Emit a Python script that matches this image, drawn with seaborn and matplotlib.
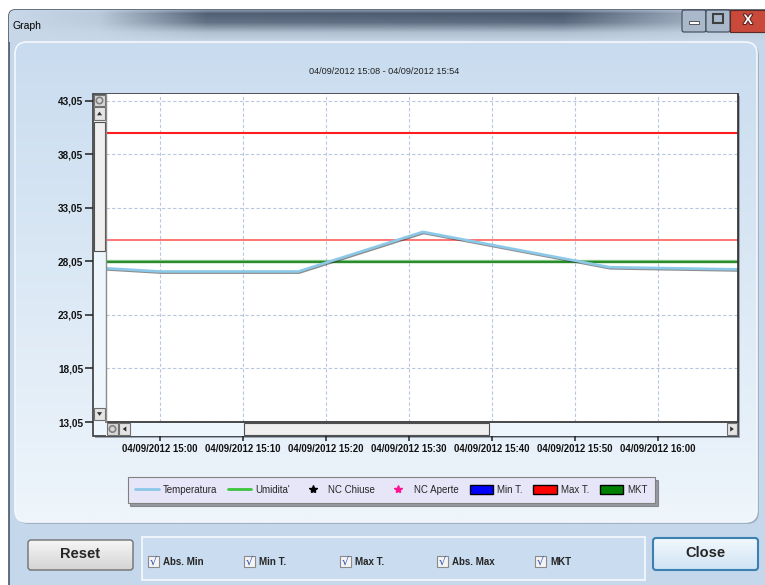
import numpy as np
import pandas as pd
import matplotlib
matplotlib.use('Agg')
import matplotlib.pyplot as plt
import matplotlib.patheffects as pe
from matplotlib.patches import Rectangle, FancyBboxPatch, Polygon, Patch, Circle
from matplotlib.lines import Line2D
from matplotlib.colors import to_rgb
import seaborn as sns

# Chart data
temp_times = ['2012-09-04 14:53:30', '2012-09-04 15:00:00', '2012-09-04 15:16:40',
              '2012-09-04 15:31:40', '2012-09-04 15:54:10', '2012-09-04 16:09:40']
temp_values = [27.4, 27.1, 27.1, 30.8, 27.5, 27.3]
max_t = 40.0
abs_max = 30.0
mkt = 28.0

x_range = ['2012-09-04 14:53:30', '2012-09-04 16:09:38']
y_range = [13.05, 43.67]
x_ticks = ['2012-09-04 15:00', '2012-09-04 15:10', '2012-09-04 15:20', '2012-09-04 15:30',
           '2012-09-04 15:40', '2012-09-04 15:50', '2012-09-04 16:00']
x_tick_labels = ['04/09/2012 15:00', '04/09/2012 15:10', '04/09/2012 15:20', '04/09/2012 15:30',
                 '04/09/2012 15:40', '04/09/2012 15:50', '04/09/2012 16:00']
y_ticks = [13.05, 18.05, 23.05, 28.05, 33.05, 38.05, 43.05]
y_tick_labels = ['13,05', '18,05', '23,05', '28,05', '33,05', '38,05', '43,05']

title = '04/09/2012 15:08 - 04/09/2012 15:54'
legend_labels = ['Temperatura', "Umidita'", 'NC Chiuse', 'NC Aperte', 'Min T.', 'Max T.', 'MKT']
check_labels = ['Abs. Min', 'Min T.', 'Max T.', 'Abs. Max', 'MKT']

df = pd.DataFrame({'time': pd.to_datetime(temp_times), 'temp': temp_values})

sns.set_theme(style='white')
plt.rcParams['font.family'] = ['Liberation Sans', 'DejaVu Sans']

W, H = 765, 585
fig = plt.figure(figsize=(W / 100, H / 100), dpi=100)
fig.patch.set_facecolor('white')


def fx(x):
    return x / W


def fy(y):
    return 1 - y / H


def vgrad(ax, x0, y0, x1, y1, c_top, c_bot, clip=None, zorder=0):
    t = np.linspace(0, 1, 64)[:, None, None]
    img = (1 - t) * np.array(to_rgb(c_top)) + t * np.array(to_rgb(c_bot))
    img = np.repeat(img, 2, axis=1)
    im = ax.imshow(img, extent=(x0, x1, y1, y0), origin='upper', aspect='auto',
                   interpolation='bilinear', zorder=zorder)
    if clip is not None:
        im.set_clip_path(clip)
    return im


# window chrome drawn in pixel coordinates
bg = fig.add_axes([0, 0, 1, 1], zorder=-1)
bg.set_xlim(0, W)
bg.set_ylim(H, 0)
bg.axis('off')

frame = FancyBboxPatch((9, 10), 770, 590, boxstyle='round,pad=0,rounding_size=6',
                       facecolor='#c4d7eb', edgecolor='#4a5566', lw=1.2, zorder=0)
bg.add_patch(frame)

# glassy title bar
xs = np.arange(0, W)
ys = np.arange(10, 42)
wx = np.interp(xs, [0, 90, 200, 560, 640, 700, 765], [0, 0.1, 0.85, 0.9, 0.55, 0.3, 0.3])
vy = np.interp(ys, [10, 13, 22, 32, 42], [0.6, 1, 0.85, 0.2, 0])
wgt = vy[:, None] * wx[None, :]
light = np.array(to_rgb('#c9d8e8'))
dark = np.array(to_rgb('#3c4b60'))
tb = (1 - wgt[..., None]) * light + wgt[..., None] * dark
im = bg.imshow(tb, extent=(9, W, 42, 10), origin='upper', aspect='auto', zorder=1)
im.set_clip_path(frame)
bg.text(13, 26, 'Graph', fontsize=7.5, color='black', va='center', ha='left', zorder=3)

# window buttons
bg.add_patch(FancyBboxPatch((682, 10), 24, 22, boxstyle='round,pad=0,rounding_size=2',
                            facecolor='#a9b9cb', edgecolor='#3c4654', lw=0.8, zorder=3))
bg.add_patch(FancyBboxPatch((706, 10), 24, 22, boxstyle='round,pad=0,rounding_size=2',
                            facecolor='#a9b9cb', edgecolor='#3c4654', lw=0.8, zorder=3))
bg.add_patch(Rectangle((730, 10), 40, 22, facecolor='#c9493b', edgecolor='#5a2a24', lw=0.8, zorder=3))
bg.add_patch(Rectangle((689, 21), 10, 3, facecolor='white', edgecolor='#404040', lw=0.6, zorder=4))
bg.add_patch(Rectangle((713, 14), 10, 9, facecolor='none', edgecolor='#404040', lw=1.5, zorder=4))
bg.text(748, 20, 'X', fontsize=10, fontweight='bold', color='white', ha='center', va='center', zorder=4,
        path_effects=[pe.withStroke(linewidth=1.5, foreground='#5a2020')])

# inner panel
bg.add_patch(FancyBboxPatch((17, 44), 742, 480, boxstyle='round,pad=0,rounding_size=12',
                            facecolor='#9fb1c4', edgecolor='none', zorder=1.5))
panel = FancyBboxPatch((15, 42), 742, 480, boxstyle='round,pad=0,rounding_size=12',
                       facecolor='none', edgecolor='#f4f8fc', lw=1.2, zorder=3)
bg.add_patch(panel)
vgrad(bg, 15, 42, 757, 522, '#c9dcef', '#eef5fb', clip=panel, zorder=2)

# chart box with shadow
bg.add_patch(Rectangle((95, 96), 645, 342, facecolor='#9aa8b8', edgecolor='none', zorder=3))
bg.add_patch(Rectangle((93, 94), 645, 342, facecolor='#eef6fd', edgecolor='#3a3a3a', lw=1.2, zorder=4))


def button(x, y, w, h, face='#e4e4e4', edge='#707070'):
    bg.add_patch(Rectangle((x, y), w, h, facecolor=face, edgecolor=edge, lw=0.8, zorder=6))


def tri(cx, cy, d):
    s = 2.6
    if d == 'up':
        pts = [(cx - s, cy + s * 0.7), (cx + s, cy + s * 0.7), (cx, cy - s * 0.7)]
    elif d == 'down':
        pts = [(cx - s, cy - s * 0.7), (cx + s, cy - s * 0.7), (cx, cy + s * 0.7)]
    elif d == 'left':
        pts = [(cx + s * 0.7, cy - s), (cx + s * 0.7, cy + s), (cx - s * 0.7, cy)]
    else:
        pts = [(cx - s * 0.7, cy - s), (cx - s * 0.7, cy + s), (cx + s * 0.7, cy)]
    bg.add_patch(Polygon(pts, closed=True, facecolor='#303030', edgecolor='none', zorder=7))


def gear(cx, cy):
    bg.add_patch(Circle((cx, cy), 3.2, facecolor='none', edgecolor='#808080', lw=1.2, zorder=7))


# vertical scrollbar
button(94, 95, 11, 11, face='#d8d8d8')
gear(99.5, 100.5)
button(94, 107, 11, 13)
tri(99.5, 113.5, 'up')
button(94, 122, 11, 129, face='#efefef', edge='#505050')
button(94, 408, 11, 12)
tri(99.5, 414, 'down')

# horizontal scrollbar
bg.add_patch(Rectangle((106, 422), 632, 14, facecolor='#eef6fd', edgecolor='none', zorder=5))
button(107, 423, 11, 12, face='#d8d8d8')
gear(112.5, 429)
button(119, 423, 11, 12)
tri(124.5, 429, 'left')
button(244, 423, 245, 12, face='#efefef', edge='#505050')
button(727, 423, 10, 12)
tri(732, 429, 'right')

# bottom controls
reset = FancyBboxPatch((28, 540), 105, 30, boxstyle='round,pad=0,rounding_size=3',
                       facecolor='none', edgecolor='#707070', lw=1.0, zorder=6)
bg.add_patch(reset)
vgrad(bg, 28, 540, 133, 570, '#f6f6f6', '#d4d4d4', clip=reset, zorder=5)
bg.text(80.5, 554, 'Reset', fontsize=10.5, fontweight='bold', ha='center', va='center', zorder=7)

close = FancyBboxPatch((653, 538), 105, 32, boxstyle='round,pad=0,rounding_size=3',
                       facecolor='none', edgecolor='#3c7fb1', lw=1.5, zorder=6)
bg.add_patch(close)
vgrad(bg, 653, 538, 758, 570, '#f2f8fd', '#cfe3f3', clip=close, zorder=5)
bg.text(705.5, 553, 'Close', fontsize=10.5, fontweight='bold', ha='center', va='center', zorder=7)

bg.add_patch(Rectangle((142, 537), 503, 43, facecolor='#cadcef', edgecolor='#f6f9fc', lw=1.2, zorder=5))
check_x = [148, 244, 340, 437, 535]
for cx, lab in zip(check_x, check_labels):
    bg.add_patch(Rectangle((cx, 556), 11, 11, facecolor='#f4f4f4', edgecolor='#8a8a8a', lw=0.8, zorder=6))
    bg.text(cx + 5.5, 562, '\u221a', fontsize=8, color='#2a4fb0', ha='center', va='center', zorder=7,
            family=['DejaVu Sans'])
    bg.text(cx + 15, 562, lab, fontsize=7, fontweight='bold', ha='left', va='center', zorder=7)

bg.set_xlim(0, W)
bg.set_ylim(H, 0)

# main chart
ax = fig.add_axes([fx(106), fy(422), 632 / W, 328 / H], zorder=1)
ax.set_facecolor('white')

sns.lineplot(data=df, x='time', y='temp', ax=ax, color='#8cc8e8', lw=1.9, zorder=5)
ax.lines[0].set_path_effects([pe.SimpleLineShadow(offset=(0.6, -0.8), shadow_color='#303030', alpha=0.55),
                              pe.Normal()])

ax.axhline(max_t, color='#ff1e1e', lw=1.5, zorder=4)
ax.axhline(abs_max, color='#ff6a6a', lw=1.3, zorder=4)
ax.axhline(mkt, color='#2a8c2a', lw=1.7, zorder=4,
           path_effects=[pe.SimpleLineShadow(offset=(0, 0.9), shadow_color='#9ad09a', alpha=1), pe.Normal()])

ax.set_xlim(pd.Timestamp(x_range[0]), pd.Timestamp(x_range[1]))
ax.set_ylim(y_range)
ax.set_xticks(pd.to_datetime(x_ticks))
ax.set_xticklabels(x_tick_labels)
ax.set_yticks(y_ticks)
ax.set_yticklabels(y_tick_labels)
ax.set_xlabel('')
ax.set_ylabel('')

ax.grid(True, color='#b8c8e0', linestyle=(0, (3, 2)), lw=0.8)
for s in ['top', 'right']:
    ax.spines[s].set_visible(False)
ax.spines['left'].set_position(('outward', 9.4))
ax.spines['bottom'].set_position(('outward', 10.1))
ax.spines['left'].set_visible(False)
ax.spines['bottom'].set_visible(False)
ax.tick_params(axis='y', which='major', left=True, direction='out', length=5.8, width=1.1,
               color='#202020', pad=1.2, labelsize=7.2)
ax.tick_params(axis='x', which='major', bottom=True, direction='out', length=3.6, width=1.1,
               color='#202020', pad=2.5, labelsize=6.9)
for lab in ax.get_xticklabels() + ax.get_yticklabels():
    lab.set_fontweight('bold')
    lab.set_color('#111111')

# chart frame lines
ax.plot([0, 1], [0, 0], transform=ax.transAxes, color='#3a3a3a', lw=1.3, clip_on=False, zorder=6)
ax.plot([0, 0], [0, 1], transform=ax.transAxes, color='#8a8a8a', lw=1.0, clip_on=False, zorder=6)
ax.plot([1, 1], [0, 1], transform=ax.transAxes, color='#3a3a3a', lw=1.3, clip_on=False, zorder=6)

fig.text(fx(384), fy(72), title, fontsize=6.6, ha='center', va='center', color='#222222')

handles = [Line2D([], [], color='#8cc8e8', lw=2),
           Line2D([], [], color='#3cc43c', lw=2),
           Line2D([], [], color='black', marker='*', ls='none', markersize=6),
           Line2D([], [], color='#ff1493', marker='*', ls='none', markersize=6),
           Patch(facecolor='#0000ff', edgecolor='black'),
           Patch(facecolor='#ff0000', edgecolor='black'),
           Patch(facecolor='#008000', edgecolor='black')]
leg = fig.legend(handles, legend_labels, loc='center', bbox_to_anchor=(fx(391.5), fy(490)),
                 ncol=7, frameon=True, fancybox=False, shadow=True, fontsize=7,
                 handlelength=2.4, handleheight=1.0, columnspacing=1.15, handletextpad=0.4,
                 borderpad=0.8)
leg.get_frame().set_facecolor('#e6e6f8')
leg.get_frame().set_edgecolor('#808080')
leg.get_frame().set_linewidth(0.8)
leg.get_frame().set_alpha(1)

fig.savefig('out.png', dpi=100)
